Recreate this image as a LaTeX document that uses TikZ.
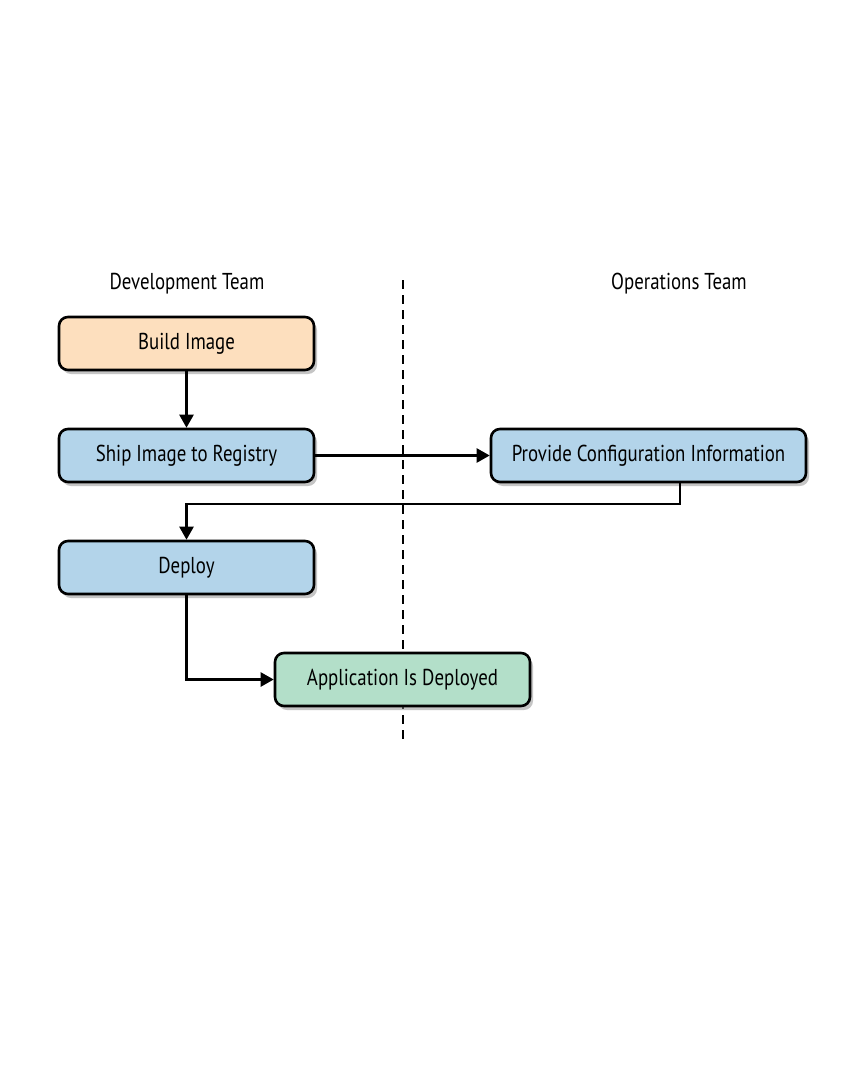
\documentclass[tikz,border=0pt]{standalone}
\usepackage{fontspec}
\setmainfont{PT Sans}[FakeStretch=0.82]
\usetikzlibrary{arrows.meta,shadows}
\definecolor{orangefill}{HTML}{FDDFBE}
\definecolor{bluefill}{HTML}{B3D4EA}
\definecolor{greenfill}{HTML}{B3DFC9}
\tikzset{
  box/.style={draw=black, line width=2.6pt, rounded corners=9pt, minimum height=53pt,
    minimum width=255pt, inner sep=0pt, font=\fontsize{23}{26}\selectfont,
    drop shadow={shadow xshift=3pt, shadow yshift=-4pt, fill=black!45, opacity=0.5}},
  conn/.style={line width=2.4pt, -{Triangle[length=13pt,width=14pt]}},
  team/.style={font=\fontsize{23}{26}\selectfont}
}
\begin{document}
\begin{tikzpicture}[x=1pt,y=-1pt]
\useasboundingbox (0,0) rectangle (842,1089);
\fill[white] (0,0) rectangle (842,1089);
\coordinate (dtop) at (403,280);
\coordinate (dbot) at (403,740);
\draw[line width=2.4pt, dash pattern=on 9pt off 6pt] (dtop) -- (dbot);
\node[team] (dev) at (187,284) {Development Team};
\node[team] (ops) at (679,284) {Operations Team};
\node[box, fill=orangefill] (build) at (186.5,343.5) {Build Image};
\node[box, fill=bluefill] (ship) at (186.5,455.5) {Ship Image to Registry};
\node[box, fill=bluefill, minimum width=315pt] (prov) at (648.5,455.5) {Provide Configuration Information};
\node[box, fill=bluefill] (deploy) at (186.5,567.5) {Deploy};
\node[box, fill=greenfill] (app) at (402.5,679.5) {Application Is Deployed};
\coordinate (c1) at (680,504);
\coordinate (c2) at (186.5,504);
\coordinate (c3) at (186.5,679.5);
\draw[conn] (build) -- (ship);
\draw[conn] (ship) -- (prov);
\draw[conn] (prov.south -| c1) -- (c1) -- (c2) -- (deploy.north);
\draw[conn] (deploy.south) -- (c3) -- (app.west);
\end{tikzpicture}
\end{document}
